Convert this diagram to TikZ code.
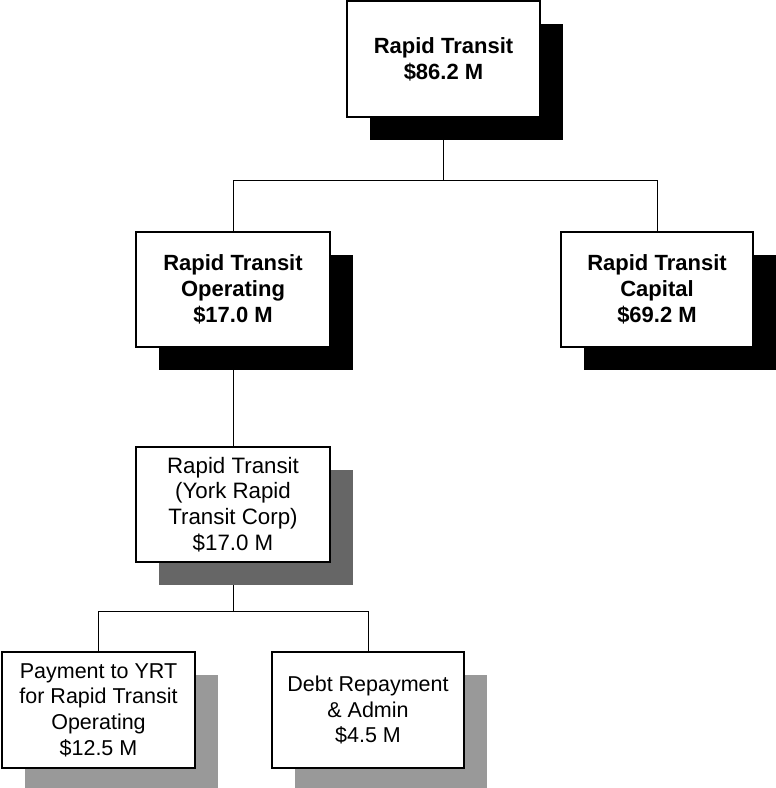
\documentclass[tikz,border=0pt]{standalone}
\usepackage{fontspec}
\setmainfont{Liberation Sans}
\usetikzlibrary{shadows,backgrounds}
\begin{document}
\begin{tikzpicture}[x=1pt,y=-1pt,
  box/.style={draw=black, line width=1.4pt, fill=white, rectangle, align=center,
    inner sep=0pt, minimum width=193pt, minimum height=116pt,
    font=\fontsize{21.5}{25.6}\selectfont},
  boldbox/.style={box, font=\fontsize{22}{26.2}\selectfont\bfseries},
  shblack/.style={general shadow={fill=black, shadow xshift=23pt, shadow yshift=-23pt}},
  shdark/.style={general shadow={fill=black!60, shadow xshift=23pt, shadow yshift=-23pt}},
  shlight/.style={general shadow={fill=black!40, shadow xshift=23pt, shadow yshift=-23pt}},
  conn/.style={draw=black, line width=0.9pt}
]
\useasboundingbox (0,0) rectangle (776,788);
\node[boldbox, shblack] (top) at (443.5,59) {Rapid Transit\\\$86.2 M};
\node[boldbox, shblack, minimum width=194pt, minimum height=115pt] (op) at (233,289.5) {Rapid Transit\\Operating\\\$17.0 M};
\node[boldbox, shblack, minimum width=192pt, minimum height=115pt] (cap) at (657,289.5) {Rapid Transit\\Capital\\\$69.2 M};
\node[box, shdark, minimum width=194pt, minimum height=115pt, font=\fontsize{22.3}{25.7}\selectfont] (yrtc) at (233,504.5) {Rapid Transit\\(York Rapid\\Transit Corp)\\\$17.0 M};
\node[box, shlight] (pay) at (98.5,710) {Payment to YRT\\for Rapid Transit\\Operating\\\$12.5 M};
\node[box, shlight, minimum width=192pt] (debt) at (368,710) {Debt Repayment\\\& Admin\\\$4.5 M};
\coordinate (bar1) at (443.5,180);
\coordinate (bar2) at (233,611);
\begin{pgfonlayer}{background}
\draw[conn] (top.south) -- (bar1);
\draw[conn] (bar1) -| (op.north);
\draw[conn] (bar1) -| (cap.north);
\draw[conn] (op.south) -- (yrtc.north);
\draw[conn] (yrtc.south) -- (bar2);
\draw[conn] (bar2) -| (pay.north);
\draw[conn] (bar2) -| (debt.north);
\end{pgfonlayer}
\end{tikzpicture}
\end{document}
